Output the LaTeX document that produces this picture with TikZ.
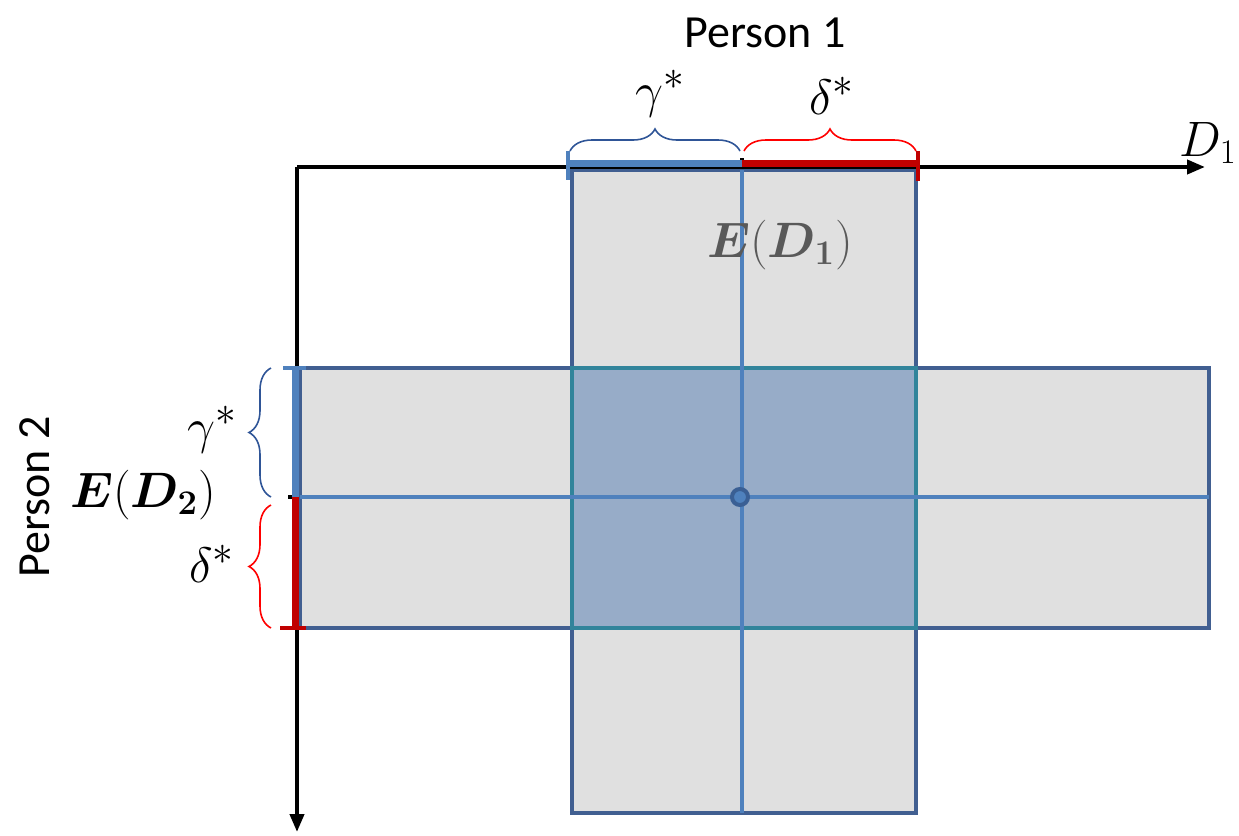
\documentclass[tikz,border=0pt]{standalone}
\usepackage{fontspec}
\setsansfont{Carlito}
\usepackage{amsmath}
\usepackage{bm}
\definecolor{BoxFill}{RGB}{224, 224, 224}
\definecolor{BoxEdge}{RGB}{65, 95, 145}
\definecolor{CoreFill}{RGB}{151, 172, 200}
\definecolor{CoreEdge}{RGB}{49, 132, 155}
\definecolor{LineBlue}{RGB}{79, 129, 189}
\definecolor{DotEdge}{RGB}{58, 95, 148}
\definecolor{BarRed}{RGB}{192, 0, 0}
\definecolor{BraceBlue}{RGB}{47, 85, 151}
\definecolor{BraceRed}{RGB}{255, 0, 0}
\definecolor{LabelGray}{RGB}{89, 89, 89}
\usetikzlibrary{arrows.meta, positioning, calc, decorations.pathreplacing}

\begin{document}
\begin{tikzpicture}[x=0.5pt, y=-0.5pt, >=Stealth,
    axisline/.style={line width=2pt, -{Triangle[length=9pt, width=7pt]}},
    boxpart/.style={fill=BoxFill, draw=BoxEdge, line width=2pt},
    midline/.style={LineBlue, line width=1.6pt},
    gapbar/.style={line width=3.5pt},
    endtick/.style={line width=2pt},
    bracket/.style={decorate, line width=0.8pt,
        decoration={brace, amplitude=11pt}},
    mathlab/.style={font=\fontsize{28}{32}\selectfont},
    biglab/.style={font=\fontsize{26}{30}\selectfont},
    personlab/.style={font=\sffamily\fontsize{23}{27}\selectfont}]
    \useasboundingbox (0,0) rectangle (1239,836);
    % Origin and axes ends
    \coordinate (O) at (297,167);
    \coordinate (xend) at (1205,167);
    \coordinate (yend) at (297,832);
    % Interval ends on the two axes
    \coordinate (g1) at (568,163);
    \coordinate (m1) at (742,163);
    \coordinate (d1) at (918,163);
    \coordinate (g2) at (295,368);
    \coordinate (m2) at (295,497);
    \coordinate (d2) at (295,628);
    % Person 1 box (vertical) and Person 2 box (horizontal)
    \draw[boxpart] (572,170) rectangle (916,813);
    \draw[boxpart] (300,368) rectangle (1209,628);
    \draw[fill=CoreFill, draw=CoreEdge, line width=2pt] (572,368) rectangle (916,628);
    % Lines through the expected values
    \draw[midline] (742,170) -- (742,813);
    \draw[midline] (300,497) -- (1209,497);
    % Axes
    \draw[axisline] (O) -- (xend);
    \draw[axisline] (O) -- (yend);
    \draw[line width=2pt] (742,158) -- (742,165);
    \draw[line width=2pt] (288,497) -- (297,497);
    % Bars on the axes
    \draw[gapbar, LineBlue] (g1) -- (m1);
    \draw[gapbar, BarRed] (m1) -- (d1);
    \draw[endtick, LineBlue] (568,151) -- (568,180);
    \draw[endtick, BarRed] (918,151) -- (918,181);
    \draw[gapbar, LineBlue] (g2) -- (m2);
    \draw[gapbar, BarRed] (m2) -- (d2);
    \draw[endtick, LineBlue] (283,368) -- (306,368);
    \draw[endtick, BarRed] (280,628) -- (306,628);
    % Braces
    \draw[bracket, BraceBlue] (570,151) -- (740,151);
    \draw[bracket, BraceRed] (744,151) -- (916,151);
    \draw[bracket, BraceBlue] (271,497) -- (271,368);
    \draw[bracket, BraceRed] (271,628) -- (271,505);
    % Centre point
    \draw[DotEdge, fill=LineBlue, line width=2pt] (740,497) circle (8);
    % Labels
    \node[mathlab] (gtop) at (660,94) {$\gamma^{*}$};
    \node[mathlab] (dtop) at (832,96) {$\delta^{*}$};
    \node[mathlab] (gleft) at (212,430) {$\gamma^{*}$};
    \node[mathlab] (dleft) at (212,564) {$\delta^{*}$};
    \node[font=\fontsize{24}{28}\selectfont, anchor=east, inner sep=0pt] (xlab) at (1237,143) {$D_1$};
    \node[biglab, LabelGray] (ED1) at (780,245) {$\bm{E}(\bm{D_1})$};
    \node[biglab] (ED2) at (143,495) {$\bm{E}(\bm{D_2})$};
    \node[personlab] (P1) at (765,33) {Person 1};
    \node[personlab, rotate=90] (P2) at (35,497) {Person 2};
\end{tikzpicture}
\end{document}
